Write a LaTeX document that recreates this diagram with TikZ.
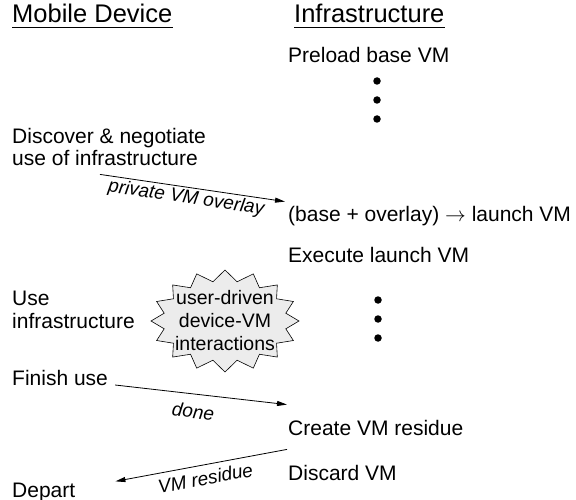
\documentclass[tikz,border=0pt]{standalone}
\usepackage{fontspec}
\setmainfont{Liberation Sans}
\usetikzlibrary{arrows.meta}

\begin{document}
\begin{tikzpicture}[x=1pt,y=-1pt,
    heading/.style={anchor=base west,inner sep=0,font=\fontsize{25.5}{27}\selectfont},
    stage/.style={anchor=base west,inner sep=0,align=left,font=\fontsize{21}{22.5}\selectfont},
    vdot/.style={circle,fill,inner sep=0,minimum size=7.5pt},
    msg/.style={-{Triangle[length=10pt,width=5pt]},line width=0.8pt},
    msglabel/.style={sloped,below,inner sep=2pt,font=\fontsize{19}{20}\selectfont\itshape}]

\useasboundingbox (0,0) rectangle (576,500);

% headings

\node (mobhead) [heading] at (12,23) {Mobile Device};
\node (infhead) [heading] at (294,23) {Infrastructure};

\draw [line width=1.5pt] ([yshift=-4.5pt]mobhead.base west) -- ([yshift=-4.5pt]mobhead.base east);
\draw [line width=1.5pt] ([yshift=-4.5pt]infhead.base west) -- ([yshift=-4.5pt]infhead.base east);

% infrastructure side

\node (preload) [stage] at (288,63) {Preload base VM};

\foreach \y in {81,100,119}
    \node (predot\y) [vdot] at (377,\y) {};

\node (launch) [stage] at (288,222) {(base + overlay) $\rightarrow$ launch VM};
\node (execute) [stage] at (288,262) {Execute launch VM};

\foreach \y in {300,319,338}
    \node (exedot\y) [vdot] at (378,\y) {};

\node (residue) [stage] at (288,435) {Create VM residue};
\node (discard) [stage] at (288,480) {Discard VM};

% mobile device side (base = last line)

\node (discover) [stage] at (12,166) {Discover \& negotiate\\use of infrastructure};
\node (use) [stage] at (12,328) {Use\\infrastructure};
\node (finish) [stage] at (12,385) {Finish use};
\node (depart) [stage] at (12,497) {Depart};

% interaction burst

\coordinate (burstc) at (225,321);
\begin{scope}[shift={(burstc)}]
    \draw [line width=0.6pt,fill=gray!15] plot [samples at={0,...,31},variable=\k]
        ({ifthenelse(mod(\k,2)==0,74,62)*cos(\k*11.25)},
         {ifthenelse(mod(\k,2)==0,51,40)*sin(\k*11.25)}) -- cycle;
\end{scope}
\node (burst) at (burstc) [align=center,inner sep=0,font=\fontsize{19.5}{23}\selectfont]
    {user-driven\\device-VM\\interactions};

% messages

\draw [msg] ([shift={(88,8)}]discover.south west) -- ([shift={(-3,-5)}]launch.north west)
    node [msglabel,pos=0.475] {private VM overlay};
\draw [msg] ([xshift=7pt]finish.base east) -- ([shift={(-1,-15)}]residue.north west)
    node [msglabel,pos=0.465,below=8pt] {done};
\draw [msg] ([shift={(-1,14)}]residue.south west) -- ([shift={(40,-1)}]depart.north east)
    node [msglabel,pos=0.49,below=4pt] {VM residue};

\end{tikzpicture}
\end{document}
